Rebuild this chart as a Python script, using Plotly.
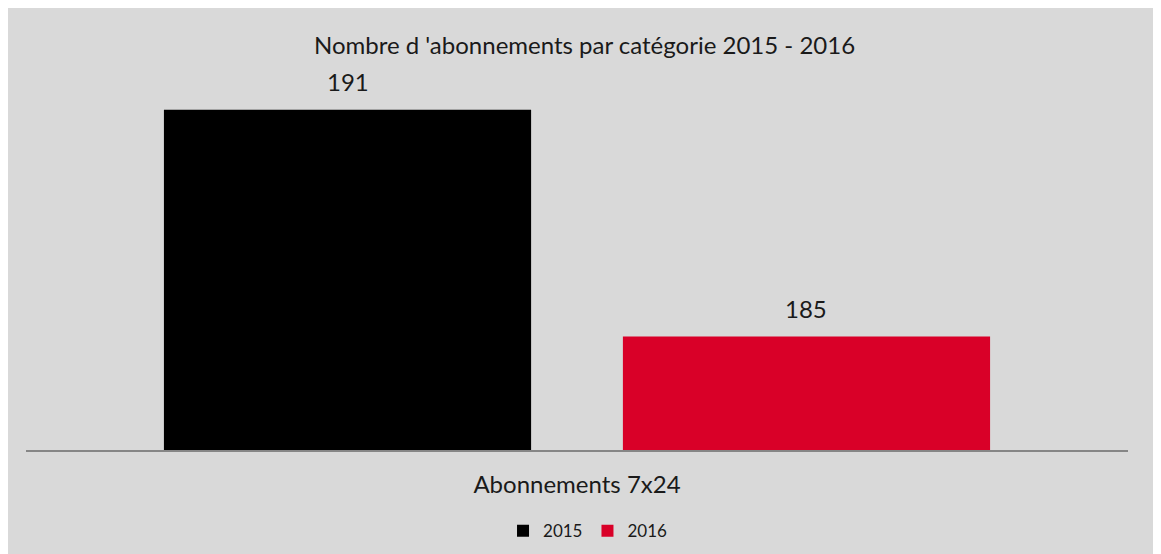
import plotly.graph_objects as go

categories = ["Abonnements 7x24"]
series_names = ["2015", "2016"]
values_2015 = [191]
values_2016 = [185]
colors = ["#000000", "#d90028"]
title_text = "Nombre d 'abonnements par catégorie 2015 - 2016"

FONT = "Lato, 'Open Sans', sans-serif"
BARGAP = 0.167
BARGROUPGAP = 0.2

fig = go.Figure()
all_vals = [values_2015, values_2016]
for name, vals, col in zip(series_names, all_vals, colors):
    fig.add_trace(go.Bar(name=name, x=categories, y=vals, marker=dict(color=col, line=dict(width=0))))

# value labels above the bars (x offset = centre of each trace slot within the category)
n = len(series_names)
slot = (1 - BARGAP) / n
for i, vals in enumerate(all_vals):
    off = -(1 - BARGAP) / 2 + slot * (i + 0.5)
    for ci, v in enumerate(vals):
        fig.add_annotation(x=ci + off, y=v, text=str(v), showarrow=False, yanchor="bottom", yshift=12,
                           font=dict(size=24, color="#1a1a1a", family=FONT), xref="x", yref="y")

fig.update_layout(
    width=1153, height=546,
    paper_bgcolor="#d9d9d9", plot_bgcolor="#d9d9d9",
    margin=dict(l=18, r=33, t=64, b=104, autoexpand=False),
    barmode="group", bargap=BARGAP, bargroupgap=BARGROUPGAP,
    title=dict(text=title_text, x=0.5, xanchor="center", y=1 - 38 / 546, yanchor="middle",
               font=dict(size=24, color="#1a1a1a", family=FONT)),
    showlegend=True,
    legend=dict(orientation="h", x=0.51, xanchor="center", y=-0.215, yanchor="middle",
                font=dict(size=17, color="#1a1a1a", family=FONT), bgcolor="rgba(0,0,0,0)",
                itemwidth=30, tracegroupgap=0),
    font=dict(family=FONT),
)
fig.update_yaxes(range=[182, 192], visible=False, showgrid=False)
fig.update_xaxes(showline=True, linecolor="#868686", linewidth=2, showgrid=False,
                 tickfont=dict(size=24, color="#1a1a1a", family=FONT),
                 ticks="outside", ticklen=12, tickcolor="rgba(0,0,0,0)")

fig.write_html("out.html")
